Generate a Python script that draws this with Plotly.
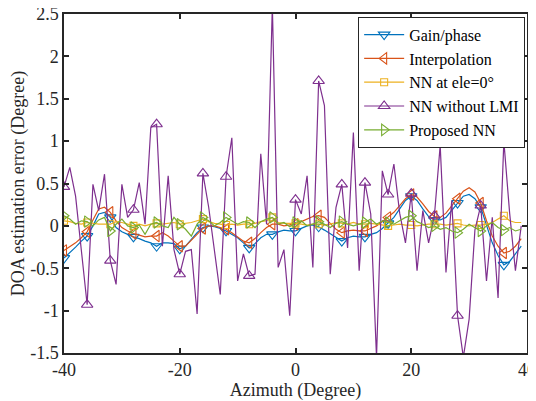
import plotly.graph_objects as go

# Azimuth grid (degrees)
azimuth = list(range(-40, 40))

gain_phase = [-0.38, -0.32, -0.25, -0.18, -0.12, 0.00, 0.14, 0.16, 0.10, -0.02,
              -0.07, -0.10, -0.13, -0.15, -0.18, -0.20, -0.24, -0.20, -0.20, -0.21,
              -0.27, -0.24, -0.16, -0.08, -0.02, 0.00, -0.01, -0.03, -0.06, -0.10,
              -0.14, -0.20, -0.26, -0.21, -0.14, -0.10, -0.10, -0.07, -0.05, -0.06,
              -0.06, -0.03, 0.00, 0.01, -0.01, -0.05, -0.09, -0.13, -0.18, -0.14,
              -0.12, -0.13, -0.13, -0.10, -0.08, -0.03, 0.03, 0.10, 0.20, 0.30,
              0.35, 0.30, 0.20, 0.11, 0.07, 0.07, 0.10, 0.18, 0.27, 0.35,
              0.37, 0.32, 0.22, 0.00, -0.20, -0.35, -0.46, -0.42, -0.33, -0.24]

interpolation = [-0.29, -0.25, -0.20, -0.14, -0.07, 0.07, 0.20, 0.22, 0.16, 0.06,
                 -0.02, -0.06, -0.09, -0.11, -0.13, -0.12, -0.12, -0.08, -0.12, -0.18,
                 -0.24, -0.24, -0.17, -0.10, -0.03, 0.00, 0.00, -0.02, -0.04, -0.08,
                 -0.13, -0.18, -0.20, -0.15, -0.08, -0.02, 0.02, 0.02, 0.00, 0.01,
                 0.02, 0.05, 0.08, 0.11, 0.12, 0.10, 0.03, -0.04, -0.08, -0.06,
                 -0.05, -0.06, -0.06, -0.03, 0.00, 0.05, 0.10, 0.16, 0.24, 0.32,
                 0.37, 0.34, 0.26, 0.17, 0.11, 0.10, 0.15, 0.24, 0.32, 0.41,
                 0.45, 0.40, 0.27, 0.06, -0.12, -0.24, -0.32, -0.30, -0.24, -0.15]

nn_ele0 = [0.06, 0.05, 0.03, 0.02, 0.04, 0.03, 0.02, 0.02, 0.02, 0.05,
           0.04, 0.02, 0.00, 0.02, 0.00, 0.02, 0.03, 0.02, 0.03, 0.04,
           0.02, 0.03, 0.04, 0.06, 0.08, 0.05, 0.03, 0.02, 0.01, 0.02,
           0.01, 0.02, 0.02, 0.03, 0.05, 0.06, 0.10, 0.04, 0.03, 0.03,
           0.03, 0.02, 0.01, 0.02, 0.02, 0.01, 0.02, 0.04, 0.03, 0.02,
           0.04, 0.02, 0.02, 0.03, 0.02, 0.01, 0.00, 0.01, 0.02, 0.01,
           0.01, 0.00, 0.01, 0.02, 0.02, 0.02, 0.01, 0.02, 0.03, 0.01,
           0.00, 0.01, 0.01, 0.02, 0.04, 0.08, 0.12, 0.06, 0.04, 0.04]

nn_without_lmi = [0.46, 0.69, 0.35, -0.28, -0.93, 0.49, 0.18, 0.61, -0.41, -0.69,
                  0.49, 0.10, 0.19, 0.51, 0.02, 1.16, 1.20, -0.24, 0.59, -0.28,
                  -0.57, -0.30, -0.28, -1.04, 0.62, 0.22, -0.30, -0.81, 0.58, 1.04,
                  -0.65, -0.33, -0.59, -0.57, 0.85, 0.02, 2.60, -0.49, -0.28, -1.06,
                  0.31, 0.14, 0.59, -0.49, 1.71, 1.42, -0.57, 0.22, 0.49, -0.26,
                  1.10, -0.53, 0.51, 0.14, -1.55, 0.65, 0.37, 0.73, 0.15, -0.20,
                  0.38, -0.53, 0.18, -0.20, 0.12, 0.95, -0.55, 0.30, -1.06, -1.55,
                  -1.10, -0.05, 0.24, -0.65, 0.10, -0.85, 1.00, 0.15, -0.53, 0.00]

proposed_nn = [0.12, 0.08, 0.02, 0.06, 0.05, 0.00, 0.07, 0.10, -0.06, 0.02,
               0.08, 0.00, -0.02, 0.01, -0.10, 0.02, 0.04, 0.00, -0.02, 0.10,
               0.02, -0.04, -0.12, 0.02, 0.10, 0.06, 0.00, 0.04, 0.10, 0.06,
               0.02, 0.05, 0.04, -0.02, 0.05, 0.08, 0.10, 0.02, 0.04, -0.01,
               0.04, 0.06, 0.00, 0.02, 0.05, 0.02, -0.02, 0.03, 0.05, 0.02,
               0.00, 0.02, 0.04, 0.08, 0.02, 0.06, 0.04, 0.02, 0.06, 0.10,
               0.12, 0.05, 0.02, -0.02, 0.00, -0.04, -0.02, -0.06, -0.08, -0.04,
               0.02, -0.02, -0.06, 0.00, 0.04, -0.02, -0.05, -0.02, -0.06, -0.04]

series_names = ["Gain/phase", "Interpolation", "NN at ele=0°", "NN without LMI", "Proposed NN"]
series_values = [gain_phase, interpolation, nn_ele0, nn_without_lmi, proposed_nn]

x_tick_vals = [-40, -20, 0, 20, 40]
x_tick_text = ["-40", "-20", "0", "20", "40"]
y_tick_vals = [-1.5, -1, -0.5, 0, 0.5, 1, 1.5, 2, 2.5]
y_tick_text = ["-1.5", "-1", "-0.5", "0", "0.5", "1", "1.5", "2", "2.5"]

colors = ["#0072BD", "#D95319", "#EDB120", "#7E2F8E", "#77AC30"]
symbols = ["triangle-down-open", "triangle-left-open", "square-open", "triangle-up-open", "triangle-right-open"]
msizes = [10, 10, 7, 10, 10]
MARK_EVERY = 4

FONT = "Times New Roman, Liberation Serif, serif"
AX = "#262626"

fig = go.Figure()
for name, vals, c, sym, ms in zip(series_names, series_values, colors, symbols, msizes):
    fig.add_trace(go.Scatter(x=azimuth, y=vals, mode="lines",
                             line=dict(color=c, width=1.2),
                             showlegend=False, hoverinfo="skip"))
    fig.add_trace(go.Scatter(x=azimuth[::MARK_EVERY], y=vals[::MARK_EVERY], mode="markers",
                             marker=dict(symbol=sym, size=ms, color=c, line=dict(width=1.1, color=c)),
                             showlegend=False, hoverinfo="skip"))

for name, c, sym, ms in zip(series_names, colors, symbols, msizes):
    fig.add_trace(go.Scatter(x=[None], y=[None], mode="lines+markers", name=name,
                             line=dict(color=c, width=1.2),
                             marker=dict(symbol=sym, size=ms, color=c, line=dict(width=1.1, color=c))))

axis_common = dict(showgrid=False, zeroline=False, showline=True, mirror="ticks",
                   linecolor=AX, linewidth=1.5, ticks="inside", ticklen=5,
                   tickcolor=AX, tickwidth=1.5, ticklabeloverflow="allow",
                   tickfont=dict(family=FONT, size=18, color=AX))

# page has an 8px body margin: figure is 528x393 placed at (8,8)
fig.update_layout(
    width=528, height=393,
    font=dict(family=FONT, size=16, color=AX),
    margin=dict(l=56, r=9, t=6, b=48, autoexpand=False),
    paper_bgcolor="white", plot_bgcolor="white",
    xaxis=dict(range=[-40, 40], tickvals=x_tick_vals, ticktext=x_tick_text,
               title=dict(text="Azimuth (Degree)", font=dict(family=FONT, size=18, color=AX), standoff=2),
               **axis_common),
    yaxis=dict(range=[-1.5, 2.5], tickvals=y_tick_vals, ticktext=y_tick_text,
               title=dict(text="DOA estimation error (Degree)", font=dict(family=FONT, size=18, color=AX), standoff=4),
               **axis_common),
    legend=dict(x=0.996, y=0.992, xanchor="right", yanchor="top",
                bgcolor="white", bordercolor=AX, borderwidth=1,
                font=dict(family=FONT, size=16, color="black"),
                itemwidth=40, tracegroupgap=0),
    showlegend=True,
)

fig.write_html("out.html")
